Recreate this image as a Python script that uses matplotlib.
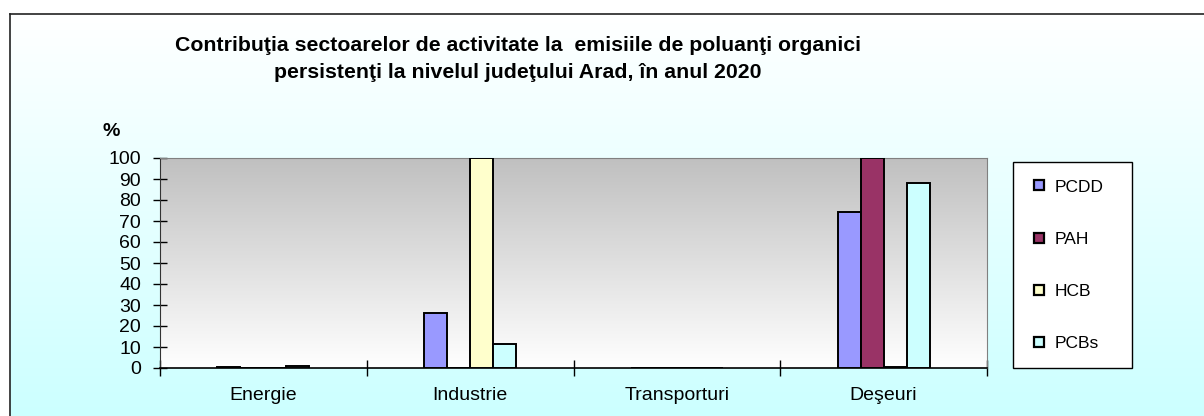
import matplotlib.pyplot as plt
import numpy as np
from matplotlib.lines import Line2D

plt.rcParams['font.family'] = ['Liberation Sans', 'DejaVu Sans']

# data
sectoare = ['Energie', 'Industrie', 'Transporturi', 'Deşeuri']
poluanti = ['PCDD', 'PAH', 'HCB', 'PCBs']
pcdd = [0.3, 26, 0, 74.5]
pah = [0, 0, 0, 100]
hcb = [0, 100, 0, 0.3]
pcbs = [1, 11.5, 0, 88]
culori = ['#9999FF', '#993366', '#FFFFCC', '#CCFFFF']

W, H = 1204, 416
fig = plt.figure(figsize=(W / 100, H / 100), dpi=100)
fig.patch.set_facecolor('white')

# background of the chart area: white at top to light cyan at bottom, framed
bg = fig.add_axes([10 / W, 0, 1 - 10 / W, 1 - 14 / H], zorder=-10)
grad = np.linspace(0, 1, 256)[:, None]
top_c = np.array([1.0, 1.0, 1.0])
bot_c = np.array([0xCC, 0xFF, 0xFF]) / 255
img = top_c * (1 - grad[..., None]) + bot_c * grad[..., None]
bg.imshow(img, aspect='auto', extent=[0, 1, 0, 1], origin='upper')
bg.set_xlim(0, 1)
bg.set_ylim(0, 1)
bg.set_xticks([])
bg.set_yticks([])
for s in ['right', 'bottom']:
    bg.spines[s].set_visible(False)
for s in ['left', 'top']:
    bg.spines[s].set_linewidth(1.2)
    bg.spines[s].set_color('#222222')

ax = fig.add_axes([160 / W, 1 - 368 / H, (987 - 160) / W, (368 - 158) / H])
ax.patch.set_alpha(0)

# plot area gradient: gray on top to white at the bottom
g = np.linspace(0, 1, 256)[:, None]
gray = np.array([0xC0, 0xC0, 0xC0]) / 255
pimg = gray * (1 - g[..., None]) + np.array([1.0, 1.0, 1.0]) * g[..., None]
ax.imshow(pimg, aspect='auto', extent=[-0.5, len(sectoare) - 0.5, 0, 100],
          origin='upper', zorder=0)

x = np.arange(len(sectoare))
w = 0.111
serii = [pcdd, pah, hcb, pcbs]
for i, (vals, c, name) in enumerate(zip(serii, culori, poluanti)):
    ax.bar(x + (i - 1.5) * w, vals, w, color=c, edgecolor='black',
           linewidth=1.4, zorder=3, label=name)

ax.set_xlim(-0.5, len(sectoare) - 0.5)
ax.set_ylim(0, 100)
ax.set_yticks(range(0, 101, 10))
ax.tick_params(axis='y', labelsize=14, length=10, width=1, pad=8.5,
               direction='inout')
ax.set_xticks(x)
ax.set_xticklabels(sectoare, fontsize=14)
ax.tick_params(axis='x', which='major', length=0, pad=14)
ax.set_xticks(np.arange(-0.5, len(sectoare)), minor=True)
ax.tick_params(axis='x', which='minor', length=11, direction='inout', width=1)

ax.spines['left'].set_color('#333333')
ax.spines['bottom'].set_color('black')
ax.spines['bottom'].set_linewidth(1.2)
ax.spines['top'].set_color('#808080')
ax.spines['right'].set_color('#808080')

fig.text(111 / W, 1 - 131 / H, '%', fontsize=14, fontweight='bold',
         ha='center', va='center')

fig.text(518 / W, 1 - 59 / H,
         'Contribuţia sectoarelor de activitate la  emisiile de poluanţi organici\n'
         'persistenţi la nivelul judeţului Arad, în anul 2020',
         fontsize=15.3, fontweight='bold', ha='center', va='center',
         linespacing=1.55)

handles = [Line2D([], [], linestyle='none', marker='s', markersize=6.5,
                  markerfacecolor=c, markeredgecolor='black',
                  markeredgewidth=1.6) for c in culori]
leg = fig.legend(handles, poluanti, loc='upper left',
                 bbox_to_anchor=(1013 / W, 1 - 368 / H, 119 / W, 206 / H),
                 mode='expand',
                 fontsize=12.5, frameon=True, fancybox=False,
                 handlelength=1.0, handletextpad=0.4,
                 labelspacing=2.13, borderpad=1.0, borderaxespad=0)
leg.get_frame().set_edgecolor('black')
leg.get_frame().set_linewidth(1.0)
leg.get_frame().set_facecolor('white')
leg.get_frame().set_alpha(1)
leg._legend_box.align = 'left'

fig.savefig('out.png', dpi=100)
